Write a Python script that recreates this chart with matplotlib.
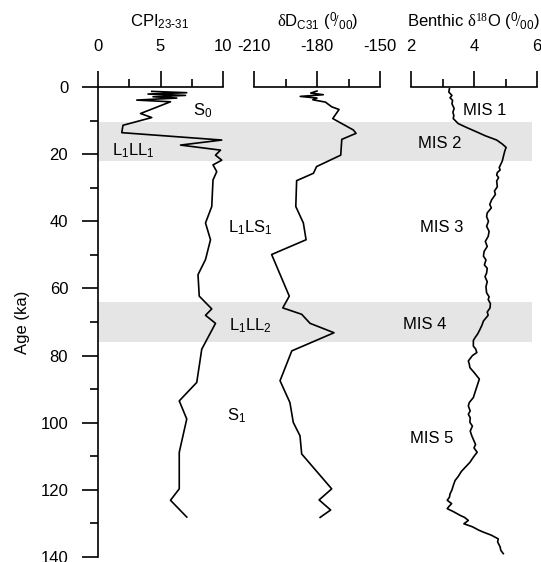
import matplotlib
matplotlib.use("Agg")
import matplotlib.pyplot as plt
from matplotlib.ticker import MultipleLocator

plt.rcParams['font.family'] = ['Liberation Sans', 'DejaVu Sans']
plt.rcParams['font.size'] = 12
plt.rcParams['axes.unicode_minus'] = False
plt.rcParams['mathtext.fontset'] = 'custom'
plt.rcParams['mathtext.rm'] = 'Liberation Serif'
plt.rcParams['mathtext.sf'] = 'Liberation Sans'
plt.rcParams['mathtext.it'] = 'Liberation Serif:italic'

# edad (ka) y CPI 23-31
edadCPI = [1.3, 1.7, 2.1, 2.5, 2.9, 3.3, 3.9, 4.4, 7.9, 9.1, 11.4, 13.6, 15.8, 17.3,
           18.8, 20.3, 21.8, 23.2, 25.2, 27.7, 35.6, 40.5, 45.5, 51.4, 55.9, 62.3,
           66.1, 68.0, 70.4, 78.1, 88.0, 93.5, 98.9, 108.8, 119.7, 123.1, 128.1]
cpi = [4.3, 7.1, 4.0, 7.0, 4.4, 6.3, 3.1, 5.8, 3.4, 4.3, 2.0, 1.9, 9.9, 6.6,
       9.8, 9.4, 9.9, 9.2, 9.5, 9.2, 9.1, 8.6, 9.0, 8.6, 8.0, 8.1,
       9.1, 8.6, 9.4, 8.3, 7.9, 6.5, 7.1, 6.5, 6.5, 5.8, 7.1]

# edad (ka) y dD C31
edadDD = [1.2, 1.8, 2.3, 2.8, 3.3, 3.8, 4.5, 5.9, 6.7, 9.4, 12.8, 13.8, 15.6, 20.3,
          23.7, 25.7, 27.9, 35.6, 40.5, 45.5, 49.9, 62.3, 65.8, 67.7, 70.4, 73.2,
          78.6, 87.5, 94.0, 99.9, 103.9, 109.3, 119.7, 123.0, 126.0, 128.2]
dD = [-180, -183, -177, -188, -180, -182, -176, -173, -169.5, -172.5, -162.7, -161.4,
      -168.2, -168.7, -180.2, -181.7, -189.7, -190.1, -186.5, -185.2, -201.6, -193.2,
      -196.3, -187.3, -183.3, -171.9, -192, -197.6, -192.9, -191.3, -188.1, -187.3,
      -173, -179, -173.5, -178.5]

# edad (ka) y d18O bentonico
edadO = [0.5, 1.5, 2.5, 3.2, 4.0, 5.0, 6.4, 7.5, 8.5, 9.4, 10.9, 12.0, 13.4, 14.5,
         15.8, 17.0, 18.0, 19.0, 20.8, 22.0, 23.0, 24.0, 24.7, 25.5, 26.2, 27.0,
         28.0, 29.7, 31.0, 32.0, 33.6, 35.0, 36.0, 37.5, 38.6, 40.0, 41.5, 43.0,
         44.5, 46.0, 47.5, 49.0, 50.4, 51.5, 53.0, 54.0, 55.4, 56.5, 58.0, 59.5,
         61.3, 62.5, 63.3, 64.5, 65.8, 67.0, 68.0, 69.7, 71.0, 72.2, 73.5, 74.7,
         75.5, 77.2, 78.0, 79.1, 80.0, 81.6, 82.5, 83.6, 85.0, 87.0, 89.0, 91.0,
         92.5, 94.0, 95.0, 96.5, 97.5, 98.5, 99.9, 101.0, 102.5, 103.9, 105.0,
         106.5, 107.5, 108.8, 110.0, 111.8, 113.0, 114.5, 116.0, 117.2, 118.5,
         120.0, 121.2, 122.2, 123.1, 124.1, 125.0, 125.6, 126.5, 127.6, 128.2,
         129.1, 130.1, 131.0, 132.0, 132.6, 133.5, 134.6, 135.5, 137.0, 138.0, 139.0]
d18O = [3.22, 3.2, 3.3, 3.24, 3.32, 3.3, 3.37, 3.33, 3.36, 3.34, 3.5, 3.75, 4.09, 4.35,
        4.72, 4.9, 5.02, 4.98, 4.93, 4.9, 4.85, 4.8, 4.83, 4.74, 4.72, 4.78,
        4.72, 4.74, 4.65, 4.68, 4.56, 4.5, 4.55, 4.42, 4.40, 4.46, 4.40, 4.48,
        4.45, 4.36, 4.42, 4.32, 4.30, 4.38, 4.33, 4.42, 4.40, 4.35, 4.42, 4.38,
        4.40, 4.48, 4.45, 4.52, 4.51, 4.42, 4.45, 4.30, 4.25, 4.19, 4.12, 4.03,
        3.98, 3.98, 4.05, 4.09, 3.95, 3.82, 3.85, 3.87, 4.0, 4.17, 4.1, 4.03,
        3.98, 3.85, 3.82, 3.88, 3.82, 3.88, 3.87, 3.95, 3.88, 3.93, 3.98,
        4.05, 4.0, 4.1, 4.0, 3.87, 3.75, 3.6, 3.5, 3.4, 3.35,
        3.3, 3.24, 3.22, 3.15, 3.29, 3.2, 3.15, 3.35, 3.56, 3.7,
        3.82, 3.68, 3.95, 4.15, 4.3, 4.55, 4.77, 4.75, 4.83, 4.85, 4.93]

# bandas grises (ka)
bandas = [(10.5, 22.0), (64.0, 75.9)]

# etiquetas: texto, x relativo, edad
etiquetas = [("S$_{\\mathsf{0}}$", 0.242, 7.0), ("L$_{\\mathsf{1}}$LL$_{\\mathsf{1}}$", 0.081, 19.0),
             ("L$_{\\mathsf{1}}$LS$_{\\mathsf{1}}$", 0.35, 42.0),
             ("L$_{\\mathsf{1}}$LL$_{\\mathsf{2}}$", 0.352, 71.0),
             ("S$_{\\mathsf{1}}$", 0.32, 98.0),
             ("MIS 1", 0.892, 7.0), ("MIS 2", 0.788, 16.8), ("MIS 3", 0.793, 42.0),
             ("MIS 4", 0.753, 70.7), ("MIS 5", 0.77, 104.8)]

W, H = 541, 562
fig = plt.figure(figsize=(W / 100, H / 100), dpi=100)

y0, y1 = 87, 557
bottom = 1 - y1 / H
height = (y1 - y0) / H

# eje de fondo con eje Y y bandas
fondo = fig.add_axes([98 / W, bottom, (532 - 98) / W, height])
fondo.set_ylim(140, 0)
fondo.set_xlim(0, 1)
for s in ["top", "right", "bottom"]:
    fondo.spines[s].set_visible(False)
fondo.spines["left"].set_linewidth(1.2)
fondo.set_xticks([])
fondo.yaxis.set_major_locator(MultipleLocator(20))
fondo.yaxis.set_minor_locator(MultipleLocator(10))
fondo.tick_params(axis="y", which="major", length=11.5, width=1.2, pad=10)
fondo.tick_params(axis="y", which="minor", length=5.8, width=1.2)
for a, b in bandas:
    fondo.axhspan(a, b, color="#e5e5e5", lw=0, zorder=0)
for txt, xr, ed in etiquetas:
    fondo.text(xr, ed, txt, ha="center", va="center", fontsize=12)


def panel(xpx0, xpx1, xlim, mayor, menor, x, y):
    ax = fig.add_axes([xpx0 / W, bottom, (xpx1 - xpx0) / W, height])
    ax.patch.set_visible(False)
    ax.set_ylim(140, 0)
    ax.set_xlim(*xlim)
    for s in ["right", "bottom", "left"]:
        ax.spines[s].set_visible(False)
    ax.spines["top"].set_linewidth(1.2)
    ax.set_yticks([])
    ax.xaxis.set_ticks_position("top")
    ax.xaxis.set_major_locator(MultipleLocator(mayor))
    ax.xaxis.set_minor_locator(MultipleLocator(menor))
    ax.tick_params(axis="x", which="major", length=11.5, width=1.2, pad=12)
    ax.tick_params(axis="x", which="minor", length=5.8, width=1.2)
    ax.plot(x, y, color="black", lw=1.2, clip_on=False)
    return ax


panel(98, 223, (0, 10), 5, 2.5, cpi, edadCPI)
panel(254, 380, (-210, -150), 30, 15, dD, edadDD)
panel(411, 537, (2, 6), 2, 1, d18O, edadO)

fig.text(160 / W, 1 - 22 / H, "CPI$_{\\mathsf{23\\text{-}31}}$", ha="center", va="center")
fig.text(318 / W, 1 - 22 / H, "$\\mathrm{\\delta}$D$_{\\mathsf{C31}}$ ($^{\\mathsf{0}}\\!/_{\\mathsf{00}}$)",
         ha="center", va="center")
fig.text(473 / W, 1 - 22 / H, "Benthic $\\mathrm{\\delta^{18}}$O ($^{\\mathsf{0}}\\!/_{\\mathsf{00}}$)",
         ha="center", va="center")
fig.text(22 / W, 1 - 322 / H, "Age (ka)", rotation=90, ha="center", va="center")

fig.savefig("out.png", dpi=100)
